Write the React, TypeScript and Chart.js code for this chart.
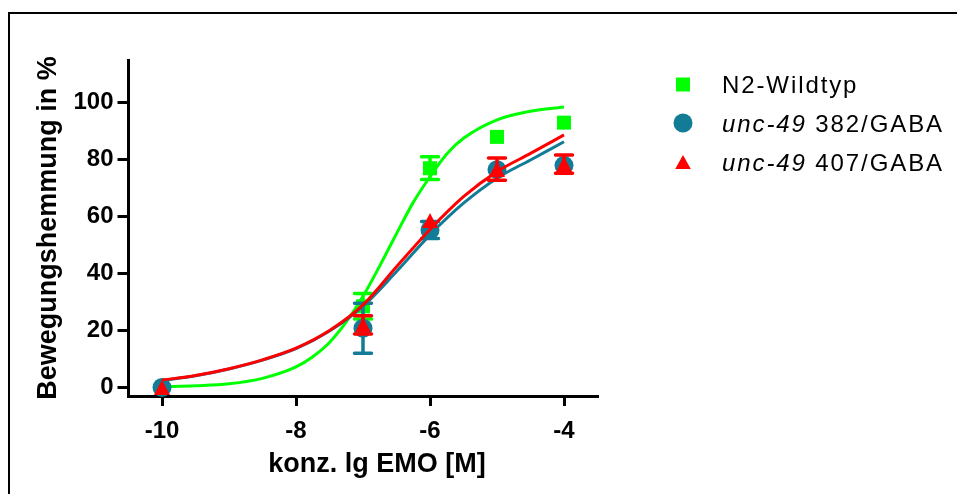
import React, { useEffect, useRef } from "react";
import { Chart, registerables } from "chart.js";

Chart.register(...registerables);

const FONT = '"Liberation Sans", Arial, Helvetica, sans-serif';
const GREEN = "#00ff00";
const BLUE = "#127c97";
const RED = "#ff0000";

// legend labels (italic part + plain part)
const seriesItalic = ["", "unc-49", "unc-49"];
const seriesRest = ["N2-Wildtyp", " 382/GABA", " 407/GABA"];

// measured points (mean ± error)
const doseLog = [-10, -7, -6, -5, -4];
const n2Mean = [0, 28.5, 77, 88, 93];
const n2Err = [0, 4.5, 4, 0, 0];
const u382Mean = [0, 20.8, 55.3, 76.5, 78];
const u382Err = [0, 8.8, 3, 0, 0];
const u407Mean = [0, 22, 58.6, 76.7, 78.4];
const u407Err = [0, 3.2, 0, 3.9, 3.2];

// fitted curves
const n2FitX = [-10, -9.5, -9, -8.5, -8, -7.75, -7.5, -7.25, -7, -6.75, -6.5, -6.25, -6, -5.75, -5.5, -5, -4.5, -4];
const n2Fit = [0.2, 0.6, 1.3, 3.2, 7.2, 10.8, 15.8, 23, 32, 42.7, 54, 65, 74, 82, 87.5, 94, 97, 98.5];
const uncFitX = [-10, -9.5, -9, -8.5, -8, -7.5, -7, -6.5, -6, -5.5, -5, -4.5, -4];
const u382Fit = [2.5, 4.1, 6.5, 9.6, 13.6, 19.8, 28.5, 40.7, 53.6, 64.7, 73.5, 79.9, 86.3];
const u407Fit = [2.6, 4.2, 6.6, 9.7, 13.8, 20, 29, 42.4, 55.5, 67, 75.8, 82.2, 88.7];

const xTicks = [-10, -8, -6, -4];
const yTicks = [0, 20, 40, 60, 80, 100];
const xTitle = "konz. lg EMO [M]";
const yTitle = "Bewegungshemmung in %";

const pts = (xs: number[], ys: number[]) => xs.map((x, i) => ({ x, y: ys[i] }));

function makeTriangle(color: string, w: number, h: number) {
  const c = document.createElement("canvas");
  c.width = w;
  c.height = h;
  const g = c.getContext("2d")!;
  g.fillStyle = color;
  g.beginPath();
  g.moveTo(w / 2, 0);
  g.lineTo(w, h);
  g.lineTo(0, h);
  g.closePath();
  g.fill();
  return c;
}

const errorBarPlugin = {
  id: "errorBars",
  beforeDatasetDraw(chart: any, args: any) {
    const ds = chart.data.datasets[args.index];
    if (!ds.errors) return;
    const ctx = chart.ctx;
    const ys = chart.scales.y;
    ctx.save();
    ctx.strokeStyle = ds.borderColor;
    ctx.lineWidth = 3.5;
    ctx.lineCap = "round";
    args.meta.data.forEach((el: any, i: number) => {
      const e = ds.errors[i];
      if (!e) return;
      const v = ds.data[i].y;
      const yT = ys.getPixelForValue(v + e);
      const yB = ys.getPixelForValue(v - e);
      const x = el.x;
      ctx.beginPath();
      ctx.moveTo(x, yT);
      ctx.lineTo(x, yB);
      ctx.moveTo(x - 8.5, yT);
      ctx.lineTo(x + 8.5, yT);
      ctx.moveTo(x - 8.5, yB);
      ctx.lineTo(x + 8.5, yB);
      ctx.stroke();
    });
    ctx.restore();
  },
};

const decorPlugin = {
  id: "decor",
  afterDraw(chart: any) {
    const ctx = chart.ctx;
    ctx.save();
    // frame
    ctx.strokeStyle = "#000";
    ctx.lineWidth = 2;
    ctx.strokeRect(9, 13, 1000, 600);

    // axis titles
    ctx.fillStyle = "#000";
    ctx.font = `bold 27px ${FONT}`;
    ctx.textAlign = "center";
    ctx.textBaseline = "alphabetic";
    ctx.fillText(xTitle, 377, 472);

    ctx.save();
    ctx.translate(56, 228);
    ctx.rotate(-Math.PI / 2);
    ctx.font = `bold 27px ${FONT}`;
    ctx.fillText(yTitle, 0, 0);
    ctx.restore();

    // legend
    const colors = [GREEN, BLUE, RED];
    const baselines = [93, 132, 171];
    const mx = 683;
    ctx.textAlign = "left";
    for (let i = 0; i < 3; i++) {
      ctx.fillStyle = colors[i];
      const cy = baselines[i] - 8.5;
      ctx.beginPath();
      if (i === 0) {
        ctx.rect(mx - 7, cy - 7, 14, 14);
      } else if (i === 1) {
        ctx.arc(mx, cy - 0.5, 9.5, 0, Math.PI * 2);
      } else {
        ctx.moveTo(mx, cy - 7.5);
        ctx.lineTo(mx + 7.8, cy + 6.5);
        ctx.lineTo(mx - 7.8, cy + 6.5);
        ctx.closePath();
      }
      ctx.fill();
      ctx.fillStyle = "#000";
      (ctx as any).letterSpacing = "1.9px";
      let tx = 722;
      if (seriesItalic[i]) {
        ctx.font = `italic 24px ${FONT}`;
        ctx.fillText(seriesItalic[i], tx, baselines[i]);
        tx += ctx.measureText(seriesItalic[i]).width;
      }
      ctx.font = `24px ${FONT}`;
      ctx.fillText(seriesRest[i], tx, baselines[i]);
      (ctx as any).letterSpacing = "0px";
    }
    ctx.restore();
  },
};

export default function App() {
  const ref = useRef<HTMLCanvasElement | null>(null);

  useEffect(() => {
    if (!ref.current) return;
    const curve = (xs: number[], data: number[], color: string, order: number) => ({
      type: "line" as const,
      data: pts(xs, data),
      borderColor: color,
      backgroundColor: color,
      borderWidth: 3,
      pointRadius: 0,
      cubicInterpolationMode: "monotone" as const,
      fill: false,
      order,
      clip: false as any,
    });
    const points = (data: number[], errs: number[], color: string, style: any, radius: number, order: number) => ({
      type: "scatter" as const,
      data: pts(doseLog, data),
      errors: errs,
      backgroundColor: color,
      borderColor: color,
      borderWidth: 0,
      pointStyle: style,
      pointRadius: radius,
      pointHoverRadius: radius,
      showLine: false,
      order,
      clip: false as any,
    });

    const tri = makeTriangle(RED, 16, 15);

    const chart = new Chart(ref.current, {
      type: "scatter",
      data: {
        datasets: [
          points(u407Mean, u407Err, RED, tri, 9, 0),
          curve(uncFitX, u407Fit, RED, 1),
          points(u382Mean, u382Err, BLUE, "circle", 9.5, 2),
          curve(uncFitX, u382Fit, BLUE, 3),
          points(n2Mean, n2Err, GREEN, "rect", 9.9, 4),
          curve(n2FitX, n2Fit, GREEN, 5),
        ] as any,
      },
      options: {
        animation: false,
        responsive: false,
        devicePixelRatio: 1,
        events: [],
        layout: { padding: { top: 60, left: 0, right: 359.5, bottom: 0 } },
        plugins: {
          legend: { display: false },
          tooltip: { enabled: false },
          title: { display: false },
        },
        scales: {
          x: {
            type: "linear",
            min: -10.5,
            max: -3.5,
            afterBuildTicks: (s: any) => {
              s.ticks = xTicks.map((v) => ({ value: v }));
            },
            afterFit: (s: any) => {
              s.height = 98;
            },
            grid: {
              display: true,
              drawOnChartArea: false,
              drawTicks: true,
              tickLength: 10,
              lineWidth: 3,
              color: "#000",
            },
            border: { display: true, width: 3, color: "#000" },
            ticks: {
              color: "#000",
              padding: 11,
              maxRotation: 0,
              font: { family: FONT, size: 24, weight: "bold" },
              callback: (v: any) => String(v),
            },
          },
          y: {
            type: "linear",
            min: -3,
            max: 115,
            afterBuildTicks: (s: any) => {
              s.ticks = yTicks.map((v) => ({ value: v }));
            },
            afterFit: (s: any) => {
              s.width = 128.5;
            },
            grid: {
              display: true,
              drawOnChartArea: false,
              drawTicks: true,
              tickLength: 11,
              lineWidth: 3,
              color: "#000",
            },
            border: { display: true, width: 3, color: "#000" },
            ticks: {
              color: "#000",
              padding: 4,
              font: { family: FONT, size: 24, weight: "bold" },
              callback: (v: any) => String(v),
            },
          },
        },
      } as any,
      plugins: [errorBarPlugin, decorPlugin],
    });
    return () => chart.destroy();
  }, []);

  return (
    <div style={{ position: "absolute", left: 0, top: 0, width: 957, height: 494, background: "#fff" }}>
      <canvas ref={ref} width={957} height={494} style={{ display: "block" }} />
    </div>
  );
}
